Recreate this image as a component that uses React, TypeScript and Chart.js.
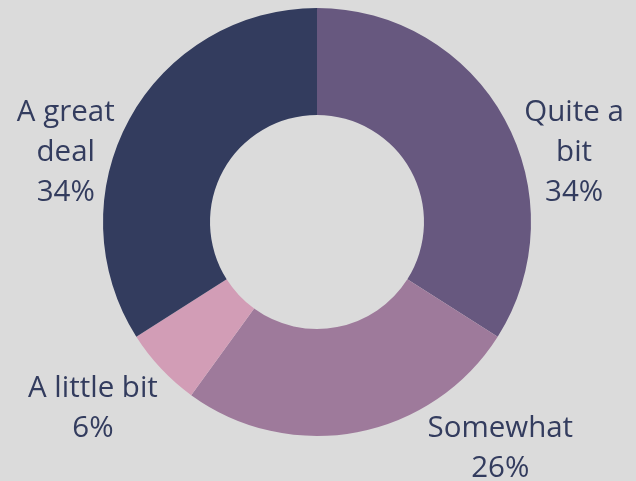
import React, { useEffect, useRef } from "react";
import { Chart, registerables } from "chart.js";

Chart.register(...registerables);

const categories = ["Quite a bit", "Somewhat", "A little bit", "A great deal"];
const values = [34, 26, 6, 34];
const colors = ["#67587f", "#9e7a9b", "#d29db6", "#333c5e"];
const labelNudges = [
  { dx: 4, dy: 2 },
  { dx: 67, dy: -21 },
  { dx: 10, dy: 8 },
  { dx: 1, dy: 2 },
];

const FONT = "29.5px 'Open Sans'";
const TEXT_COLOR = "#333c5e";

function wrap(ctx: CanvasRenderingContext2D, text: string, maxW: number): string[] {
  const words = text.split(" ");
  const lines: string[] = [];
  let cur = "";
  for (const w of words) {
    const t = cur ? cur + " " + w : w;
    if (ctx.measureText(t).width > maxW && cur) {
      lines.push(cur);
      cur = w;
    } else cur = t;
  }
  if (cur) lines.push(cur);
  return lines;
}

const outerLabels = {
  id: "outerLabels",
  afterDatasetsDraw(chart: any) {
    const ctx: CanvasRenderingContext2D = chart.ctx;
    const meta = chart.getDatasetMeta(0);
    const data = chart.data.datasets[0].data as number[];
    const total = data.reduce((a, b) => a + b, 0);
    ctx.save();
    ctx.font = FONT;
    ctx.fillStyle = TEXT_COLOR;
    ctx.textBaseline = "middle";
    ctx.textAlign = "center";
    const lh = 40;
    meta.data.forEach((arc: any, i: number) => {
      const p = arc.getProps(["x", "y", "startAngle", "endAngle", "outerRadius"], true);
      const mid = (p.startAngle + p.endAngle) / 2;
      const r = p.outerRadius + 18;
      const ax = p.x + Math.cos(mid) * r;
      const ay = p.y + Math.sin(mid) * r;
      const lines = wrap(ctx, String(chart.data.labels[i]), 140);
      lines.push(Math.round((data[i] / total) * 100) + "%");
      const bw = Math.max(...lines.map((l) => ctx.measureText(l).width));
      const nudge = labelNudges[i];
      const left = Math.cos(mid) >= 0 ? ax : ax - bw;
      const cx = left + bw / 2 + nudge.dx;
      lines.forEach((l, k) => {
        ctx.fillText(l, cx, ay + nudge.dy + k * lh);
      });
    });
    ctx.restore();
  },
};

export default function App() {
  const ref = useRef<HTMLCanvasElement>(null);
  useEffect(() => {
    document.body.style.margin = "0";
    document.body.style.background = "#dbdbdb";
    const chart = new Chart(ref.current!, {
      type: "doughnut",
      data: {
        labels: categories,
        datasets: [
          {
            data: values,
            backgroundColor: colors,
            borderWidth: 0,
          },
        ],
      },
      options: {
        animation: false,
        responsive: false,
        cutout: "50%",
        layout: { padding: { top: 8, bottom: 45, left: 103, right: 105 } },
        plugins: { legend: { display: false }, tooltip: { enabled: false } },
      },
      plugins: [outerLabels],
    });
    return () => chart.destroy();
  }, []);
  return (
    <div style={{ width: 636, height: 481, background: "#dbdbdb" }}>
      <canvas ref={ref} width={636} height={481} style={{ display: "block" }} />
    </div>
  );
}
